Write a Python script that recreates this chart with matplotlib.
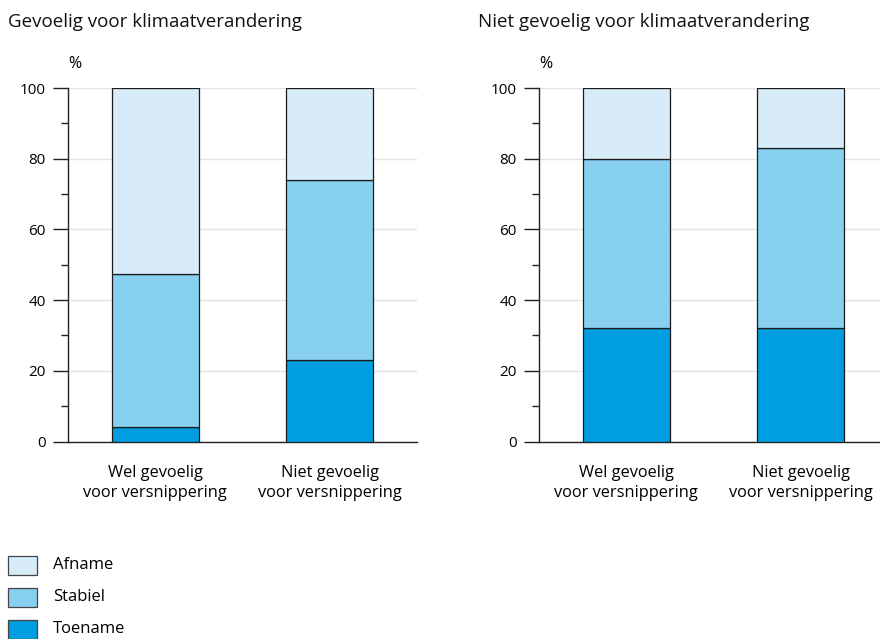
import matplotlib
matplotlib.use("Agg")
import matplotlib.pyplot as plt
from matplotlib.patches import Rectangle
import numpy as np

plt.rcParams['font.family'] = ['Open Sans', 'DejaVu Sans']

categories = ["Wel gevoelig\nvoor versnippering", "Niet gevoelig\nvoor versnippering"]
panel_titles = ["Gevoelig voor klimaatverandering", "Niet gevoelig voor klimaatverandering"]
series_names = ["Toename", "Stabiel", "Afname"]
# per panel: [Toename, Stabiel, Afname] for each category
left_toename = [4, 23]
left_stabiel = [43.5, 51]
left_afname = [52.5, 26]
right_toename = [32, 32]
right_stabiel = [48, 51]
right_afname = [20, 17]
colors = {"Toename": "#009ee0", "Stabiel": "#88d0f0", "Afname": "#d7ebf9"}
yticks = [0, 20, 40, 60, 80, 100]

W, H = 880, 639
fig = plt.figure(figsize=(W / 100, H / 100), dpi=100)

def px_axes(x0, x1, y0, y1):
    return fig.add_axes([x0 / W, 1 - y1 / H, (x1 - x0) / W, (y1 - y0) / H])

panels = [
    (px_axes(68, 417, 88, 441.5), [left_toename, left_stabiel, left_afname], 8),
    (px_axes(539, 888, 88, 441.5), [right_toename, right_stabiel, right_afname], 478),
]

for i, (ax, data, tx) in enumerate(panels):
    x = np.arange(len(categories))
    bottom = np.zeros(len(categories))
    for name, vals in zip(series_names, data):
        ax.bar(x, vals, width=0.5, bottom=bottom, color=colors[name],
               edgecolor="#1a1a1a", linewidth=0.9, zorder=3)
        bottom = bottom + np.array(vals)
    ax.set_xlim(-0.5, 1.5)
    ax.set_ylim(0, 100)
    ax.set_yticks(yticks)
    ax.set_yticks(np.arange(0, 101, 10), minor=True)
    ax.tick_params(axis='y', which='major', length=11, width=1, labelsize=11, pad=5, color="#222222")
    ax.tick_params(axis='y', which='minor', length=5, width=1, color="#222222")
    ax.set_xticks(x)
    ax.set_xticklabels(categories, fontsize=11.8, linespacing=1.35)
    ax.tick_params(axis='x', length=0, pad=17)
    for s in ["top", "right"]:
        ax.spines[s].set_visible(False)
    ax.spines["left"].set_color("#222222")
    ax.spines["bottom"].set_color("#222222")
    ax.spines["left"].set_linewidth(1)
    ax.spines["bottom"].set_linewidth(1)
    ax.grid(axis='y', color="#e3e3e3", linewidth=1, zorder=0)
    ax.set_axisbelow(True)
    fig.text(tx / W, 1 - 22 / H, panel_titles[i], fontsize=13.5, va='center', ha='left', color="#111111")
    ax.text(0.0, 1 + 24 / 353.5, "%", transform=ax.transAxes, fontsize=11.5, ha='left', va='center')

# legend
leg_items = ["Afname", "Stabiel", "Toename"]
leg_y = [565, 597, 629]
for name, yc in zip(leg_items, leg_y):
    fig.patches.append(Rectangle((8 / W, 1 - (yc + 9.5) / H), 29 / W, 19 / H,
                                 transform=fig.transFigure, facecolor=colors[name],
                                 edgecolor="#444444", linewidth=0.9))
    fig.text(53 / W, 1 - yc / H, name, fontsize=12, va='center', ha='left')

fig.savefig("out.png", dpi=100)
